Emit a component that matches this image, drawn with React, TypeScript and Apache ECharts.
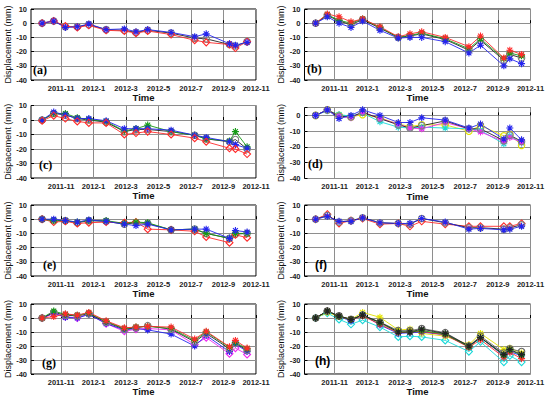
import React, { useEffect, useRef } from "react";
import * as echarts from "echarts";

const dates = [
  "2011-09-26", "2011-10-18", "2011-11-09", "2011-12-01", "2011-12-23",
  "2012-01-25", "2012-02-27", "2012-03-20", "2012-04-11", "2012-05-25",
  "2012-07-08", "2012-07-30", "2012-09-12", "2012-09-23", "2012-10-15",
];

const xTickValues = [10, 12, 14, 16, 18, 20, 22];
const xTickLabels = ["2011-11", "2012-1", "2012-3", "2012-5", "2012-7", "2012-9", "2012-11"];

// (a)
const aBlack = [0, 1.5, -2.5, -2.5, -1, -4.5, -5, -6.5, -5, -7, -10.5, -11, -15, -16, -13];
const aRed = [0, 1.5, -2, -3, -1.5, -5, -5.5, -7, -5.5, -8, -12, -13.5, -15, -17.5, -13];
const aBlue = [0, 1.5, -3, -2.5, -0.5, -4.5, -4, -6, -4.5, -6.5, -9.5, -7.5, -14.5, -15.5, -13.5];
// (b)
const bBlack = [0, 5.5, 1.5, -1, 2.5, -3.5, -10, -9, -7.5, -11.5, -19, -12, -26, -22, -24.5];
const bGreen = [0, 6, 2, 0, 3, -3, -10, -8.5, -7, -11, -18, -11, -25, -21, -23];
const bRed = [0, 6.5, 4.5, 1, 3, -2.5, -9.5, -7.5, -6, -10, -16.5, -9, -24.5, -19, -22];
const bBlue = [0, 4.5, 0, -3, 1.5, -5, -10.5, -10, -10, -13, -21, -15.5, -30, -25, -28.5];
// (c)
const cBlack = [0, 4.5, 3.5, 1, 0, -1.5, -8, -6.5, -6.5, -8, -10.5, -13, -15, -13.5, -20];
const cGreen = [0, 4.5, 4.5, 1.5, 0.5, -1, -7.5, -6, -3.5, -8, -10.5, -13, -14.5, -8, -18.5];
const cBlue = [0, 5.5, 3.5, 1, 1, -0.5, -6, -6, -6, -7, -10.5, -12, -15, -17, -19.5];
const cRed = [-0.5, 3, 1, -1, -2, -2, -10, -9, -8, -10, -12.5, -15, -19.5, -20, -23.5];
// (d)
const dYellow = [0, 3.5, 0, -1, 0.5, -1.5, -5.5, -7, -6, -6, -10, -6.5, -13, -12, -19];
const dBlack = [0, 3.5, -0.5, -1, 2, -2, -6, -8, -6.5, -3.5, -8.5, -8.5, -16, -12.5, -16.5];
const dBlue = [0, 3.5, -2, 0, 3.5, 0, -4.5, -4.5, -1.5, -3, -8, -5.5, -15, -8, -15.5];
const dMagenta = [0, 3.5, -0.5, -1.5, 2, -2, -5.5, -8, -8.5, -4.5, -8.5, -10.5, -16.5, -14, -17];
const dCyan = [0, 3, 0.5, -0.5, 1.5, -4, -7.5, -8, -7.5, -8, -8.5, -9.5, -18, -13, -17.5];
// (e)
const eBlack = [0, -1, -1, -2.5, -1, -1.5, -3.5, -2.5, -3, -7.5, -7, -10, -13.5, -10.5, -10];
const eBlue = [0, 0, -1, -2, -0.5, -1.5, -3.5, -4.5, -3.5, -7.5, -7, -7, -13.5, -8, -9];
const eGreen = [0, -1, -1, -2, -1, -1, -3, -2, -2.5, -7.5, -7, -10, -13.5, -10, -10];
const eRed = [0, -2, -1.5, -3, -2.5, -2, -2.5, -2, -7, -7.5, -8.5, -12.5, -16.5, -11, -13];
// (f)
const fBlack = [0, 2.5, -2, -1, 1, -2.5, -3, -3.5, 0.5, -2.5, -6, -6, -7, -6, -4];
const fRed = [0, 3.5, -3, -1, 0.5, -3.5, -3, -5, -1.5, -3.5, -5, -5, -5, -5, -3];
const fBlue = [0, 2, -1.5, -1.5, 1, -2.5, -3, -3, 0.5, -2, -7, -6.5, -7.5, -7, -5];
// (g)
const gBlack = [0, 4, 2, 1.5, 3, -3, -8, -7, -5.5, -8, -17, -11, -22, -18, -23];
const gRed = [0, 1, 3, 2, 4, -2, -7, -6.5, -6, -6.5, -15, -9.5, -20.5, -16, -21.5];
const gGreen = [0, 5, 2.5, 2, 3.5, -2.5, -7.5, -6.5, -6, -7.5, -16, -10, -21, -17.5, -22];
const gBlue = [0, 3.5, 0.5, 0, 2.5, -4, -8.5, -7.5, -8.5, -11.5, -20, -12.5, -24, -18.5, -24];
const gMagenta = [0, 3, 1, 0, 3, -4, -9.5, -8, -7.5, -8.5, -19, -14, -25.5, -21.5, -26];
// (h)
const hGrey = [0, 5, 1.5, -1, 2, -3, -9, -9, -7.5, -10.5, -20, -13, -25, -22, -24];
const hBlack = [0, 5, 1.5, -1, 2, -3, -10, -10, -8, -11, -20, -14, -26, -22.5, -26];
const hGreen = [0, 5, 1, -1, 2, -3.5, -10, -10, -9, -11.5, -20.5, -14, -26.5, -23, -26.5];
const hYellow = [0, 4, 1, -1, 4, 0.5, -8.5, -8, -11, -13, -19, -11, -22.5, -21.5, -25];
const hRed = [0, 5, 1, -1, 1.5, -4.5, -10.5, -10, -9.5, -12, -21, -15.5, -28, -24.5, -29];
const hBlue = [0, 5, 1, -2, 2.5, -5, -11, -10.5, -10, -12, -20.5, -14, -27, -24, -27];
const hCyan = [0, 3.5, -1, -4.5, -1.5, -6.5, -13.5, -13, -13.5, -16, -24, -17, -31.5, -27, -31.5];

const COLORS: Record<string, string> = {
  black: "#222222",
  grey: "#666666",
  red: "#ff2a2a",
  blue: "#2424ee",
  green: "#159a15",
  magenta: "#f028f0",
  cyan: "#18d8d8",
  yellow: "#e2e200",
};

const ASTERISK = "path://M5,0L5,10M0,5L10,5M1.5,1.5L8.5,8.5M1.5,8.5L8.5,1.5";
const DIAMOND = "path://M5,0L10,5L5,10L0,5Z";

type S = { v: number[]; c: string; m: string };

const panels: { label: string; yName: string; ymax: number; serif: boolean; lx: number; ly: number; series: S[] }[] = [
  { label: "(a)", yName: "Displacement (mm)", ymax: 10, serif: true, lx: 33, ly: 71.5, series: [
    { v: aBlack, c: "black", m: "circle" }, { v: aRed, c: "red", m: "diamond" }, { v: aBlue, c: "blue", m: "star" } ] },
  { label: "(b)", yName: "Displacement (mm)", ymax: 10, serif: true, lx: 307, ly: 71, series: [
    { v: bBlack, c: "black", m: "circle" }, { v: bGreen, c: "green", m: "star" }, { v: bRed, c: "red", m: "star" }, { v: bBlue, c: "blue", m: "star" } ] },
  { label: "(c)", yName: "Dispacement (mm)", ymax: 10, serif: true, lx: 39, ly: 167, series: [
    { v: cBlack, c: "black", m: "circle" }, { v: cGreen, c: "green", m: "star" }, { v: cBlue, c: "blue", m: "star" }, { v: cRed, c: "red", m: "diamond" } ] },
  { label: "(d)", yName: "Displacement (mm)", ymax: 5, serif: true, lx: 308, ly: 166, series: [
    { v: dYellow, c: "yellow", m: "circle" }, { v: dCyan, c: "cyan", m: "star" }, { v: dMagenta, c: "magenta", m: "star" }, { v: dBlack, c: "black", m: "circle" }, { v: dBlue, c: "blue", m: "star" } ] },
  { label: "(e)", yName: "Displacement (mm)", ymax: 10, serif: true, lx: 43, ly: 267, series: [
    { v: eBlack, c: "black", m: "circle" }, { v: eRed, c: "red", m: "diamond" }, { v: eGreen, c: "green", m: "star" }, { v: eBlue, c: "blue", m: "star" } ] },
  { label: "(f)", yName: "Displacement (mm)", ymax: 10, serif: false, lx: 315, ly: 267, series: [
    { v: fRed, c: "red", m: "diamond" }, { v: fBlack, c: "black", m: "circle" }, { v: fBlue, c: "blue", m: "star" } ] },
  { label: "(g)", yName: "Displacement (mm)", ymax: 10, serif: true, lx: 42, ly: 365, series: [
    { v: gMagenta, c: "magenta", m: "diamond" }, { v: gBlue, c: "blue", m: "star" }, { v: gBlack, c: "black", m: "circle" }, { v: gGreen, c: "green", m: "star" }, { v: gRed, c: "red", m: "star" } ] },
  { label: "(h)", yName: "Displacement (mm)", ymax: 10, serif: false, lx: 315, ly: 363, series: [
    { v: hCyan, c: "cyan", m: "diamond" }, { v: hYellow, c: "yellow", m: "star" }, { v: hGrey, c: "grey", m: "circle" }, { v: hBlue, c: "blue", m: "star" }, { v: hRed, c: "red", m: "star" }, { v: hGreen, c: "green", m: "star" }, { v: hBlack, c: "black", m: "star" } ] },
];

const gridBoxes = [
  { left: 31, top: 9, width: 225, height: 71 },
  { left: 304.5, top: 9, width: 226, height: 71 },
  { left: 31, top: 105.5, width: 225, height: 72.5 },
  { left: 304.5, top: 107.5, width: 226, height: 71 },
  { left: 31, top: 205, width: 225, height: 71 },
  { left: 304.5, top: 205, width: 226, height: 71 },
  { left: 31, top: 304, width: 225, height: 70 },
  { left: 304.5, top: 304, width: 226, height: 70 },
];

function toMonth(d: string): number {
  const [y, m, day] = d.split("-").map(Number);
  const dim = new Date(y, m, 0).getDate();
  return (y - 2011) * 12 + (m - 1) + (day - 1) / dim;
}

const X_MIN = 8.15;
const X_MAX = 22;

export default function App() {
  const ref = useRef<HTMLDivElement>(null);
  useEffect(() => {
    if (!ref.current) return;
    const chart = echarts.init(ref.current, undefined, { renderer: "svg" });
    const xs = dates.map(toMonth);
    const grid = gridBoxes.map((g) => ({ ...g, show: true, borderColor: "#000", borderWidth: 1, backgroundColor: "transparent", containLabel: false, outerBoundsMode: "none" }));
    const splitStyle = { show: true, lineStyle: { color: "#8e8e8e", width: 1 } };
    const xAxis = panels.map((p, i) => ({
      gridIndex: i,
      type: "value",
      min: X_MIN,
      max: X_MAX,
      name: "Time",
      nameLocation: "middle",
      nameGap: 12,
      nameTextStyle: { fontSize: 9.5, fontWeight: "bold", color: "#111" },
      axisLine: { show: false },
      axisTick: { show: true, inside: true, length: 3, customValues: xTickValues, lineStyle: { color: "#000" } },
      axisLabel: {
        customValues: xTickValues,
        formatter: (v: number) => { const k = xTickValues.findIndex((t) => Math.abs(t - v) < 1e-6); return k >= 0 ? xTickLabels[k] : ""; },
        fontSize: 7.5, fontWeight: "bold", color: "#222", margin: 4, showMinLabel: true, showMaxLabel: true,
      },
      splitLine: splitStyle,
    }));
    const yAxis = panels.map((p, i) => ({
      gridIndex: i,
      type: "value",
      min: -40,
      max: p.ymax,
      interval: 10,
      name: p.yName,
      nameLocation: "middle",
      nameGap: 17,
      nameTextStyle: { fontSize: 9, color: "#111" },
      axisLine: { show: false },
      axisTick: { show: true, inside: true, length: 3, lineStyle: { color: "#000" } },
      axisLabel: {
        fontSize: 7.5, fontWeight: "bold", color: "#222", margin: 4,
        formatter: (v: number) => (v % 10 === 0 ? String(v) : ""),
      },
      splitLine: splitStyle,
    }));
    const series: any[] = [];
    panels.forEach((p, i) => {
      p.series.forEach((s) => {
        const col = COLORS[s.c];
        const isCircle = s.m === "circle";
        series.push({
          type: "line",
          xAxisIndex: i,
          yAxisIndex: i,
          data: s.v.map((y, k) => [xs[k], y]),
          color: col,
          lineStyle: { color: col, width: 0.9 },
          symbol: isCircle ? "circle" : s.m === "diamond" ? DIAMOND : ASTERISK,
          symbolSize: isCircle ? 6.5 : 7,
          itemStyle: {
            color: "transparent",
            borderColor: isCircle ? (s.c === "black" ? "#808080" : col) : col,
            borderWidth: 1.1,
          },
          showAllSymbol: true,
          silent: true,
        });
      });
    });
    const title = panels.map((p) => ({
      text: p.label,
      left: p.lx,
      top: p.ly - 8,
      padding: 0,
      itemGap: 0,
      textStyle: {
        fontSize: 12,
        fontWeight: "bold",
        fontFamily: p.serif ? "Liberation Serif" : "Liberation Sans",
        color: "#000",
      },
    }));
    chart.setOption({
      animation: false,
      backgroundColor: "#ffffff",
      textStyle: { fontFamily: "'Liberation Sans', Arial, sans-serif" },
      title,
      grid,
      xAxis,
      yAxis,
      series,
    } as any);
    return () => chart.dispose();
  }, []);
  return <div ref={ref} style={{ position: "absolute", left: 0, top: 0, width: 550, height: 398, background: "#fff" }} />;
}
